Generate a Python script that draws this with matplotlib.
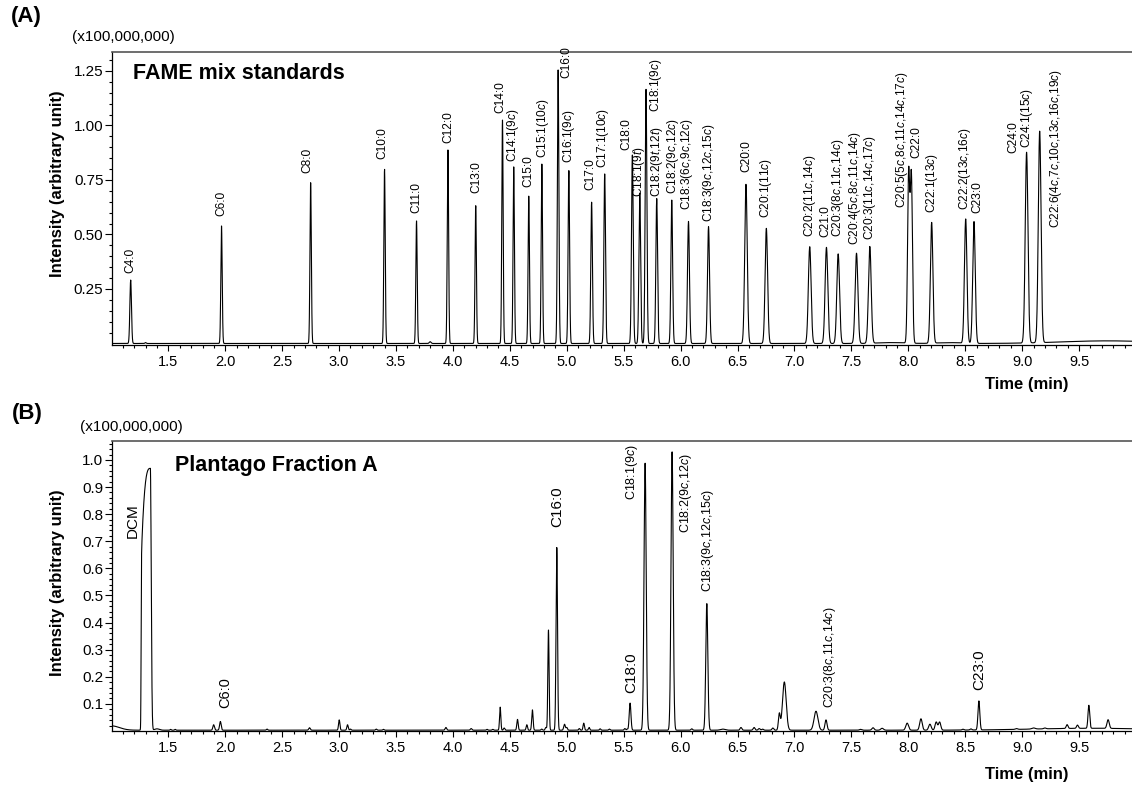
import re
import numpy as np
import matplotlib
matplotlib.use("Agg")
import matplotlib.pyplot as plt
from matplotlib.ticker import FixedLocator, FormatStrFormatter

plt.rcParams['font.family'] = ['Liberation Sans', 'DejaVu Sans']
plt.rcParams['mathtext.fontset'] = 'custom'
plt.rcParams['mathtext.rm'] = 'Liberation Sans'
plt.rcParams['mathtext.it'] = 'Liberation Sans:italic'

# ---- panel A: FAME mix standards (retention time, height, peak sigma) ----
a_rt = [1.169, 1.30, 1.967, 2.750, 3.399, 3.680, 3.80, 3.956, 4.200, 4.435,
        4.534, 4.666, 4.781, 4.924, 5.018, 5.218, 5.333, 5.576, 5.641, 5.696,
        5.790, 5.922, 6.069, 6.245, 6.574, 6.753, 7.134, 7.281, 7.384, 7.545,
        7.662, 7.850, 8.003, 8.027, 8.205, 8.350, 8.504, 8.577, 9.039, 9.154,
        9.750]
a_h = [0.291, 0.004, 0.539, 0.738, 0.800, 0.562, 0.008, 0.888, 0.632, 1.025,
       0.810, 0.677, 0.823, 1.255, 0.793, 0.648, 0.778, 0.865, 0.690, 1.166,
       0.665, 0.658, 0.560, 0.536, 0.730, 0.528, 0.444, 0.441, 0.411, 0.414,
       0.444, 0.004, 0.775, 0.760, 0.554, 0.004, 0.570, 0.559, 0.875, 0.970,
       0.012]
a_w = [0.007, 0.006, 0.006, 0.006, 0.006, 0.006, 0.008, 0.006, 0.006, 0.006,
       0.006, 0.006, 0.006, 0.0065, 0.0065, 0.007, 0.007, 0.0075, 0.0075, 0.0075,
       0.0075, 0.0075, 0.0085, 0.009, 0.011, 0.011, 0.012, 0.012, 0.012, 0.012,
       0.012, 0.12, 0.0095, 0.0095, 0.011, 0.10, 0.011, 0.011, 0.012, 0.012,
       0.40]

a_labels = ['C4:0', 'C6:0', 'C8:0', 'C10:0', 'C11:0', 'C12:0', 'C13:0', 'C14:0',
            'C14:1(9c)', 'C15:0', 'C15:1(10c)', 'C16:0', 'C16:1(9c)', 'C17:0',
            'C17:1(10c)', 'C18:0', 'C18:1(9t)', 'C18:1(9c)', 'C18:2(9t,12t)',
            'C18:2(9c,12c)', 'C18:3(6c,9c,12c)', 'C18:3(9c,12c,15c)', 'C20:0',
            'C20:1(11c)', 'C20:2(11c,14c)', 'C21:0', 'C20:3(8c,11c,14c)',
            'C20:4(5c,8c,11c,14c)', 'C20:3(11c,14c,17c)', 'C20:5(5c,8c,11c,14c,17c)',
            'C22:0', 'C22:1(13c)', 'C22:2(13c,16c)', 'C23:0', 'C24:0', 'C24:1(15c)',
            'C22:6(4c,7c,10c,13c,16c,19c)']
# label anchor (x in min, y = bottom of text in axis units)
a_lab_x = [1.163, 1.970, 2.724, 3.384, 3.678, 3.956, 4.206, 4.417, 4.528, 4.660,
           4.787, 4.992, 5.018, 5.203, 5.320, 5.526, 5.637, 5.784, 5.796, 5.931,
           6.060, 6.245, 6.574, 6.753, 7.140, 7.272, 7.380, 7.530, 7.660, 7.947,
           8.073, 8.211, 8.497, 8.607, 8.924, 9.041, 9.297]
a_lab_y = [0.325, 0.585, 0.781, 0.845, 0.597, 0.918, 0.689, 1.059, 0.834, 0.719,
           0.849, 1.217, 0.827, 0.704, 0.804, 0.888, 0.673, 1.063, 0.673, 0.686,
           0.612, 0.559, 0.788, 0.574, 0.490, 0.487, 0.490, 0.452, 0.475, 0.620,
           0.850, 0.597, 0.612, 0.597, 0.872, 0.895, 0.528]

# ---- panel B: Plantago Fraction A ----
b_rt = [1.00, 1.40, 1.52, 1.56, 1.898, 1.957, 2.367, 2.74, 3.001, 3.074,
        3.10, 3.326, 3.39, 3.938, 4.16, 4.30, 4.35, 4.415, 4.45, 4.567,
        4.649, 4.698, 4.78, 4.816, 4.839, 4.912, 4.98, 5.00, 5.11, 5.149,
        5.196, 5.293, 5.374, 5.51, 5.53, 5.556, 5.688, 5.925, 6.098, 6.23,
        6.37, 6.53, 6.645, 6.69, 6.72, 6.81, 6.867, 6.911, 7.189, 7.277,
        7.58, 7.69, 7.77, 7.99, 8.111, 8.19, 8.245, 8.275, 8.48, 8.55,
        8.62, 8.95, 9.10, 9.20, 9.395, 9.486, 9.586, 9.755, 9.60]
b_h = [0.016, 0.005, 0.003, 0.003, 0.020, 0.032, 0.004, 0.009, 0.038, 0.020,
       0.004, 0.004, 0.003, 0.010, 0.006, 0.003, 0.003, 0.085, 0.008, 0.040,
       0.020, 0.075, 0.004, 0.010, 0.370, 0.674, 0.022, 0.010, 0.006, 0.026,
       0.010, 0.005, 0.004, 0.006, 0.004, 0.100, 0.985, 1.027, 0.005, 0.467,
       0.004, 0.010, 0.010, 0.006, 0.004, 0.008, 0.060, 0.178, 0.070, 0.038,
       0.003, 0.009, 0.007, 0.026, 0.042, 0.022, 0.030, 0.030, 0.003, 0.004,
       0.107, 0.003, 0.004, 0.003, 0.014, 0.012, 0.085, 0.032, 0.007]
b_w = [0.07, 0.02, 0.005, 0.005, 0.007, 0.007, 0.006, 0.007, 0.006, 0.006,
       0.006, 0.006, 0.006, 0.007, 0.007, 0.006, 0.006, 0.0055, 0.006, 0.006,
       0.006, 0.006, 0.006, 0.006, 0.0055, 0.0065, 0.007, 0.006, 0.006, 0.006,
       0.006, 0.006, 0.006, 0.006, 0.005, 0.0075, 0.0095, 0.0095, 0.007, 0.009,
       0.02, 0.008, 0.008, 0.008, 0.008, 0.008, 0.008, 0.016, 0.017, 0.009,
       0.01, 0.01, 0.012, 0.012, 0.011, 0.011, 0.01, 0.01, 0.008, 0.008,
       0.008, 0.01, 0.015, 0.01, 0.008, 0.008, 0.0075, 0.01, 0.5]
# overloaded solvent peak (DCM): start, apex, end, apex height, height at front
dcm_start, dcm_apex, dcm_end = 1.260, 1.342, 1.362
dcm_top, dcm_front = 0.966, 0.60

b_labels = ['DCM', 'C6:0', 'C16:0', 'C18:0', 'C18:1(9c)', 'C18:2(9c,12c)',
            'C18:3(9c,12c,15c)', 'C20:3(8c,11c,14c)', 'C23:0']
b_lab_x = [1.19, 2.00, 4.912, 5.562, 5.576, 6.048, 6.244, 7.312, 8.623]
b_lab_y = [0.711, 0.084, 0.754, 0.139, 0.852, 0.729, 0.514, 0.084, 0.151]
b_lab_size = [11, 10.5, 11, 11, 9, 9, 9, 8.8, 11]


def italicize(s):
    return re.sub(r'(\d)([ct])', r'\1$\\mathit{\2}$', s)


def trace(t, rts, hs, ws):
    y = np.zeros_like(t)
    for r, h, w in zip(rts, hs, ws):
        y += h * np.exp(-0.5 * ((t - r) / w) ** 2)
    return y


t = np.linspace(1.0, 9.98, 12000)
ya = trace(t, a_rt, a_h, a_w)
yb = trace(t, b_rt, b_h, b_w) + 0.003

# DCM shape: steep front, curved rise to apex, sharp fall
u = np.clip((dcm_apex - t) / (dcm_apex - dcm_start), 0, 1)
body = dcm_top * (1 - (1 - dcm_front / dcm_top) * u ** 3)
rise = 1 / (1 + np.exp(-(t - dcm_start) / 0.0012))
fall = np.where(t > dcm_apex, np.exp(-0.5 * ((t - dcm_apex) / 0.0075) ** 2), 1.0)
yb += body * rise * fall

fig = plt.figure(figsize=(11.32, 7.86), dpi=100)
W, H = 1132, 786
ax1 = fig.add_axes([112 / W, 1 - 345 / H, 1 - 112 / W, (345 - 52) / H])
ax2 = fig.add_axes([112 / W, 1 - 731 / H, 1 - 112 / W, (731 - 441) / H])

ax1.plot(t, ya, color='black', lw=0.8)
ax2.plot(t, yb, color='black', lw=0.8)

ax1.set_ylim(-0.007, 1.337)
ax2.set_ylim(0, 1.07)
xmaj = np.arange(1.5, 9.51, 0.5)
xmin = [v for v in np.arange(1.1, 9.95, 0.1) if abs(v * 2 - round(v * 2)) > 1e-6]

for ax in (ax1, ax2):
    ax.set_xlim(1.005, 9.965)
    ax.xaxis.set_major_locator(FixedLocator(xmaj))
    ax.xaxis.set_minor_locator(FixedLocator(xmin))
    ax.xaxis.set_major_formatter(FormatStrFormatter('%.1f'))
    ax.spines['right'].set_visible(False)
    ax.spines['top'].set_color('#555555')
    ax.spines['top'].set_linewidth(1.2)
    ax.spines['left'].set_linewidth(0.9)
    ax.spines['bottom'].set_linewidth(0.9)
    ax.tick_params(axis='x', which='major', direction='out', length=4, width=0.8,
                   pad=3, labelsize=10.5)
    ax.tick_params(axis='x', which='minor', direction='out', length=2.4, width=0.8)
    ax.tick_params(axis='y', which='major', direction='out', length=5, width=0.8,
                   pad=1.2, labelsize=11)
    ax.tick_params(axis='y', which='minor', direction='out', length=2.5, width=0.8)

ax1.yaxis.set_major_locator(FixedLocator([0.25, 0.5, 0.75, 1.0, 1.25]))
ax1.yaxis.set_minor_locator(FixedLocator(np.arange(0.05, 1.34, 0.05)))
ax1.yaxis.set_major_formatter(FormatStrFormatter('%.2f'))
ax2.yaxis.set_major_locator(FixedLocator(np.arange(0.1, 1.01, 0.1)))
ax2.yaxis.set_minor_locator(FixedLocator(np.arange(0.02, 1.07, 0.02)))
ax2.yaxis.set_major_formatter(FormatStrFormatter('%.1f'))

for name, x, y in zip(a_labels, a_lab_x, a_lab_y):
    ax1.text(x, y, italicize(name), rotation=90, ha='center', va='bottom', fontsize=8.6)
for name, x, y, s in zip(b_labels, b_lab_x, b_lab_y, b_lab_size):
    ax2.text(x, y, italicize(name), rotation=90, ha='center', va='bottom', fontsize=s)


def ftext(px, py, s, **kw):
    fig.text(px / W, 1 - py / H, s, **kw)


ftext(26.7, 16.7, '(A)', fontsize=16, fontweight='bold', ha='center', va='center')
ftext(27.5, 413.3, '(B)', fontsize=16, fontweight='bold', ha='center', va='center')
ftext(71.7, 37.3, '(x100,000,000)', fontsize=11, ha='left', va='center')
ftext(80, 426.7, '(x100,000,000)', fontsize=11, ha='left', va='center')
ftext(57.3, 183.5, 'Intensity (arbitrary unit)', fontsize=12, fontweight='bold',
      rotation=90, ha='center', va='center')
ftext(57.3, 583, 'Intensity (arbitrary unit)', fontsize=12, fontweight='bold',
      rotation=90, ha='center', va='center')
ftext(1027, 385, 'Time (min)', fontsize=12, fontweight='bold', ha='center', va='center')
ftext(1027, 775, 'Time (min)', fontsize=12, fontweight='bold', ha='center', va='center')
ftext(133.3, 73.3, 'FAME mix standards', fontsize=15.5, fontweight='bold',
      ha='left', va='center')
ftext(175, 465, 'Plantago Fraction A', fontsize=15.5, fontweight='bold',
      ha='left', va='center')

fig.savefig('out.png', dpi=100)
